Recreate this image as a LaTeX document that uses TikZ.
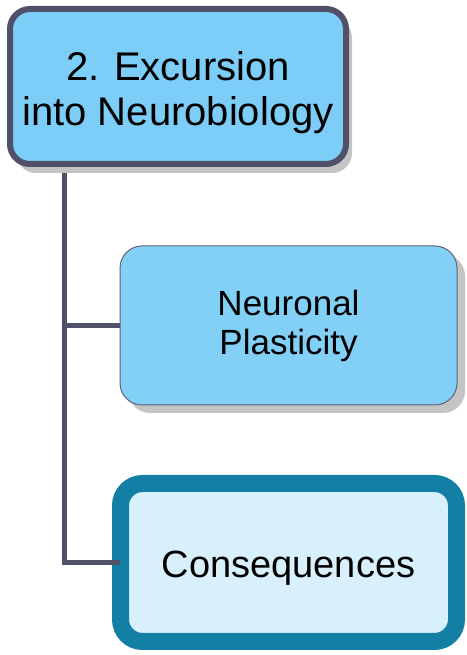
\documentclass[tikz,border=0pt]{standalone}
\usepackage{fontspec}
\setmainfont{Liberation Sans}
\usetikzlibrary{shadows}
\definecolor{frameA}{HTML}{505068}
\definecolor{fillA}{HTML}{7CCEF8}
\definecolor{fillB}{HTML}{82D0F6}
\definecolor{frameC}{HTML}{147FA5}
\definecolor{fillC}{HTML}{D8F0FC}
\definecolor{shadowgrey}{HTML}{C4C4C4}
\tikzset{
  topbox/.style={draw=frameA, line width=6pt, fill=fillA, rounded corners=20pt,
    minimum width=336pt, minimum height=155pt, inner sep=0pt, align=center,
    font=\fontsize{40}{45}\selectfont,
    drop shadow={shadow xshift=6pt, shadow yshift=-9pt, fill=shadowgrey, opacity=1}},
  midbox/.style={draw=frameA!90, line width=1pt, fill=fillB, rounded corners=22pt,
    minimum width=337pt, minimum height=159pt, inner sep=0pt, align=center,
    font=\fontsize{35}{39}\selectfont,
    drop shadow={shadow xshift=8pt, shadow yshift=-8pt, fill=shadowgrey, opacity=1}},
  curbox/.style={draw=frameC, line width=17pt, fill=fillC, rounded corners=22pt,
    minimum width=336pt, minimum height=158pt, inner sep=0pt, align=center,
    font=\fontsize{38}{44}\selectfont, text height=36pt, text depth=5pt,
    drop shadow={shadow xshift=3pt, shadow yshift=-5pt, fill=shadowgrey, opacity=1}},
  link/.style={draw=frameA, line width=5pt}
}
\begin{document}
\begin{tikzpicture}[x=1pt,y=1pt]
\useasboundingbox (0,0) rectangle (466,655);
\coordinate (trunk) at (64.5,0);
\node[midbox] (plast) at (288.5,329.5) {Neuronal\\Plasticity};
\node[curbox] (cons) at (288.5,92.5) {Consequences};
\draw[link] (trunk |- 0,490) -- (trunk |- plast.west) -- (plast.west);
\draw[link] (trunk |- plast.west) -- (trunk |- cons.west) -- ([xshift=8pt]cons.west);
\node[topbox] (excursion) at (178,568.5) {\rule{0pt}{41pt}2. Excursion\\into Neurobiology};
\end{tikzpicture}
\end{document}
